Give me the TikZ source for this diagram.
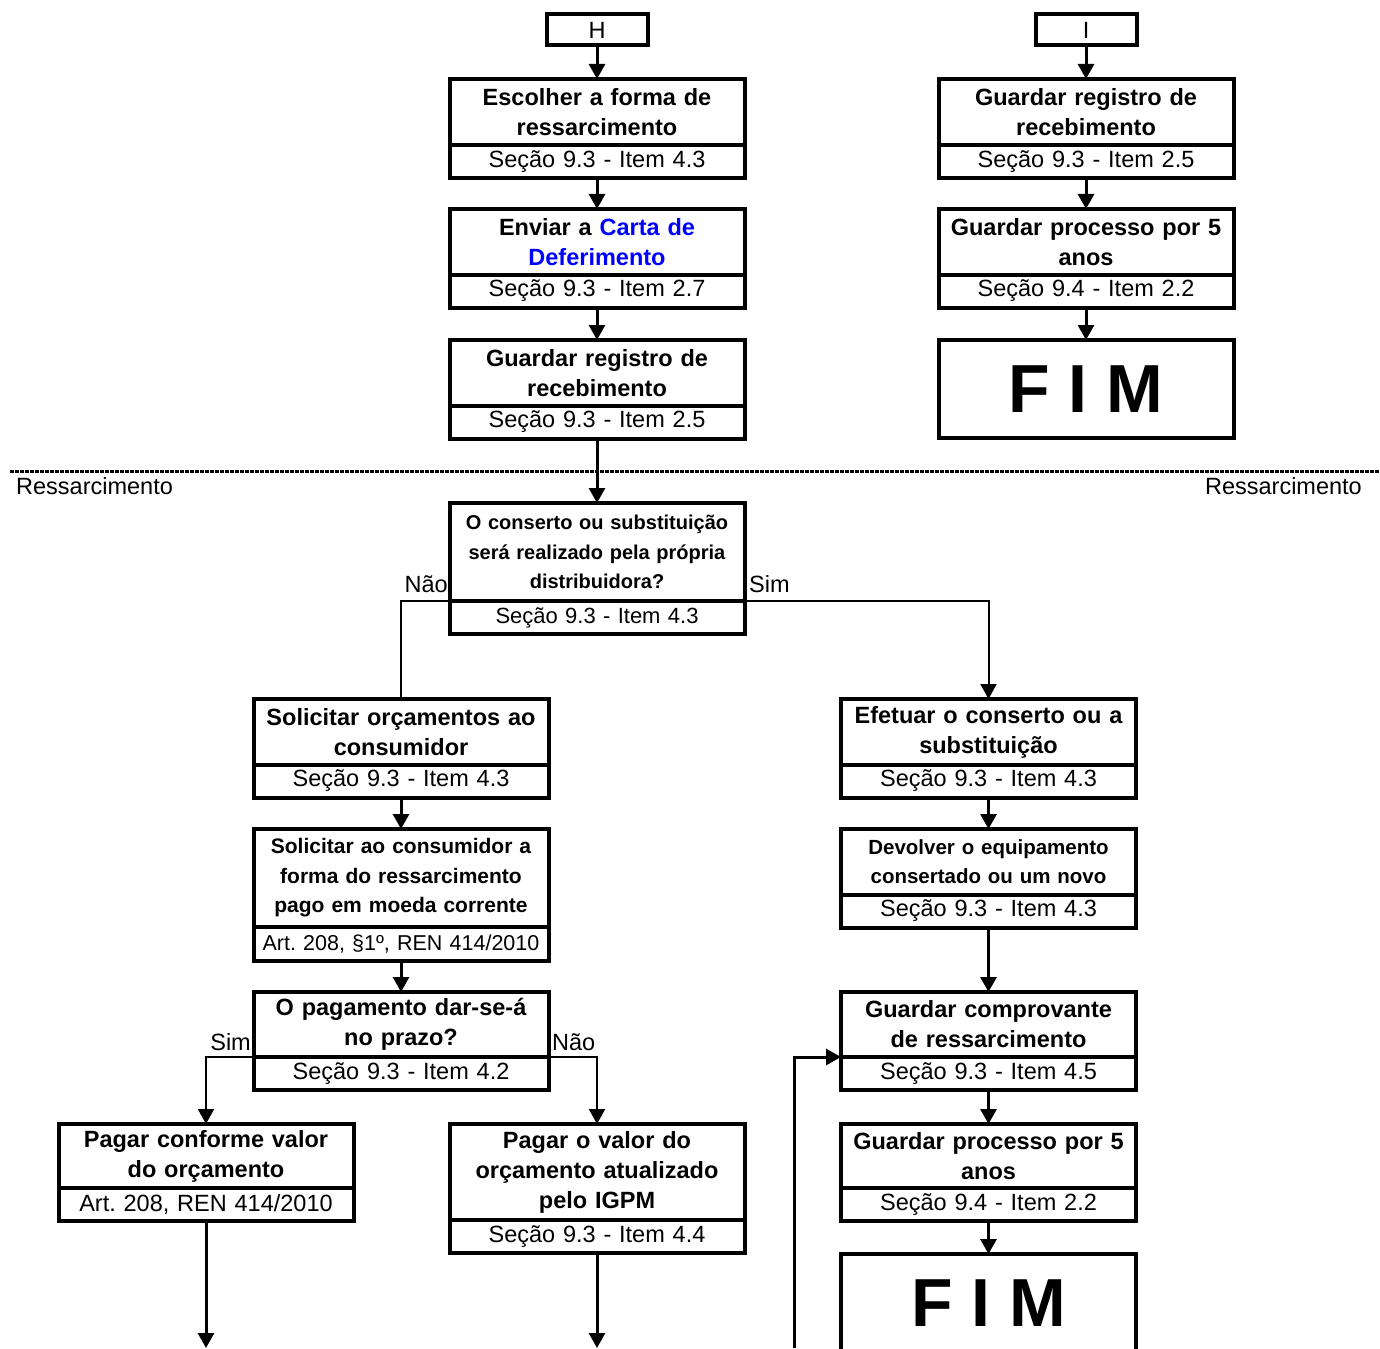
\documentclass[tikz,border=0pt]{standalone}
\usepackage{fontspec}
\setmainfont{Liberation Sans}
\usetikzlibrary{arrows.meta}
\frenchspacing

\begin{document}
\begin{tikzpicture}[x=1pt, y=-1pt,
  titlebox/.style={draw, line width=4pt, inner sep=0pt, outer sep=0pt, minimum width=295pt, text width=292pt, align=center, font=\fontsize{23.5}{30}\selectfont\bfseries},
  refbox/.style={draw, line width=4pt, inner sep=0pt, outer sep=0pt, minimum width=295pt, minimum height=33pt, text width=292pt, align=center, font=\fontsize{23.5}{28}\selectfont},
  tagbox/.style={draw, line width=4pt, inner sep=0pt, outer sep=0pt, minimum width=101pt, minimum height=31pt, font=\fontsize{23.5}{28}\selectfont},
  endbox/.style={draw, line width=4pt, inner sep=0pt, outer sep=0pt, minimum width=295pt, minimum height=98pt, font=\fontsize{68}{72}\selectfont\bfseries},
  flow/.style={line width=3pt, -{Triangle[length=15pt,width=16pt]}},
  branch/.style={line width=2pt},
  txt/.style={inner sep=0pt, font=\fontsize{23.5}{28}\selectfont}]
\useasboundingbox (0,0) rectangle (1380,1348);
\coordinate (sepL) at (10,471);
\coordinate (sepR) at (1380,471);
\draw[line width=3pt, dash pattern=on 4pt off 1pt] (sepL) -- (sepR);
\node[txt, anchor=base west] (secL) at (16,494) {Ressarcimento};
\node[txt, anchor=base east] (secR) at (1362,494) {Ressarcimento};
\node[tagbox] (h) at (597,30) {H};
\node[titlebox, minimum height=66pt] (esc) at (597,112) {Escolher a forma de\\ressarcimento};
\node[refbox] (escR) at (597,161.5) {Seção 9.3 - Item 4.3};
\node[titlebox, minimum height=66pt] (env) at (597,242) {Enviar a \textcolor{blue}{Carta de}\\\textcolor{blue}{Deferimento}};
\node[refbox] (envR) at (597,291) {Seção 9.3 - Item 2.7};
\node[titlebox, minimum height=66pt] (regL) at (597,373) {Guardar registro de\\recebimento};
\node[refbox] (regLR) at (597,422) {Seção 9.3 - Item 2.5};
\node[tagbox] (i) at (1086,30) {I};
\node[titlebox, minimum height=66pt] (regR) at (1086,112) {Guardar registro de\\recebimento};
\node[refbox] (regRR) at (1086,161.5) {Seção 9.3 - Item 2.5};
\node[titlebox, minimum height=66pt] (proc) at (1086,242) {Guardar processo por 5\\anos};
\node[refbox] (procR) at (1086,291) {Seção 9.4 - Item 2.2};
\node[endbox] (fimR) at (1086,389) {F I M};
\node[titlebox, minimum height=98pt, font=\fontsize{20}{29.5}\selectfont\bfseries] (dec1) at (597,552) {O conserto ou substituição\\será realizado pela própria\\distribuidora?};
\node[refbox, font=\fontsize{22}{26}\selectfont] (dec1R) at (597,617.5) {Seção 9.3 - Item 4.3};
\node[txt, anchor=base east] (nao1) at (448,592) {Não};
\node[txt, anchor=base west] (sim1) at (749,592) {Sim};
\node[titlebox, minimum height=66pt] (orc) at (401,732) {Solicitar orçamentos ao\\consumidor};
\node[refbox] (orcR) at (401,781) {Seção 9.3 - Item 4.3};
\node[titlebox, minimum height=98pt, font=\fontsize{21}{29.5}\selectfont\bfseries] (cons) at (401,878) {Solicitar ao consumidor a\\forma do ressarcimento\\pago em moeda corrente};
\node[refbox, minimum height=34pt, font=\fontsize{21.5}{26}\selectfont] (consR) at (401,944) {Art. 208, §1º, REN 414/2010};
\node[titlebox, minimum height=65pt] (dec2) at (401,1024.5) {O pagamento dar-se-á\\no prazo?};
\node[refbox] (dec2R) at (401,1073.5) {Seção 9.3 - Item 4.2};
\node[txt, anchor=base east] (sim2) at (251,1050) {Sim};
\node[txt, anchor=base west] (nao2) at (552,1050) {Não};
\node[titlebox, minimum height=64pt] (conf) at (206,1156) {Pagar conforme valor\\do orçamento};
\node[refbox] (confR) at (206,1204.5) {Art. 208, REN 414/2010};
\node[titlebox, minimum height=96pt] (igpm) at (597,1172) {Pagar o valor do\\orçamento atualizado\\pelo IGPM};
\node[refbox] (igpmR) at (597,1236.5) {Seção 9.3 - Item 4.4};
\node[titlebox, minimum height=66pt] (efet) at (988.5,732) {Efetuar o conserto ou a\\substituição};
\node[refbox] (efetR) at (988.5,781) {Seção 9.3 - Item 4.3};
\node[titlebox, minimum height=66pt, font=\fontsize{20.5}{29}\selectfont\bfseries] (devol) at (988.5,862) {Devolver o equipamento\\consertado ou um novo};
\node[refbox] (devolR) at (988.5,911) {Seção 9.3 - Item 4.3};
\node[titlebox, minimum height=65pt] (comp) at (988.5,1024.5) {Guardar comprovante\\de ressarcimento};
\node[refbox] (compR) at (988.5,1073.5) {Seção 9.3 - Item 4.5};
\node[titlebox, minimum height=64pt] (procB) at (988.5,1156) {Guardar processo por 5\\anos};
\node[refbox] (procBR) at (988.5,1204.5) {Seção 9.4 - Item 2.2};
\node[endbox] (fimB) at (988.5,1303) {F I M};
\coordinate (outA) at (206,1348);
\coordinate (outB) at (597,1348);
\coordinate (loopIn) at (794,1348);
\draw[flow] (h) -- (esc);
\draw[flow] (escR) -- (env);
\draw[flow] (envR) -- (regL);
\draw[flow] (regLR) -- (dec1);
\draw[flow] (i) -- (regR);
\draw[flow] (regRR) -- (proc);
\draw[flow] (procR) -- (fimR);
\draw[branch] (dec1.south west) -| (orc.north);
\draw[branch, -{Triangle[length=15pt,width=16pt]}] (dec1.south east) -| (efet.north);
\draw[flow] (orcR) -- (cons);
\draw[flow] (consR) -- (dec2);
\draw[branch, -{Triangle[length=15pt,width=16pt]}] (dec2.south west) -| (conf.north);
\draw[branch, -{Triangle[length=15pt,width=16pt]}] (dec2.south east) -| (igpm.north);
\draw[flow] (confR) -- (outA);
\draw[flow] (igpmR) -- (outB);
\draw[flow] (efetR) -- (devol);
\draw[flow] (devolR) -- (comp);
\draw[flow] (compR) -- (procB);
\draw[flow] (procBR) -- (fimB);
\draw[flow] (loopIn) |- (comp.south west);
\end{tikzpicture}
\end{document}
